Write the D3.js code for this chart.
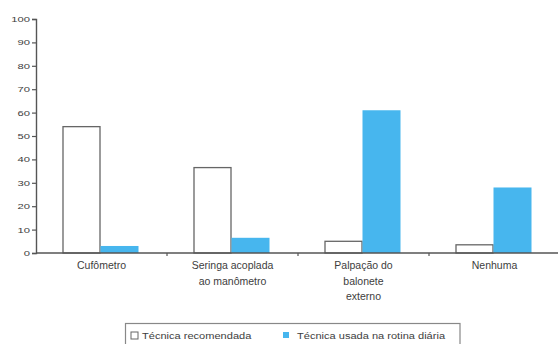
<!DOCTYPE html>
<html>
<head>
<meta charset="utf-8">
<script src="https://cdn.jsdelivr.net/npm/d3@7"></script>
<style>
  html, body { margin: 0; padding: 0; background: #fff; }
  svg { display: block; font-family: "Liberation Sans", Arial, sans-serif; }
</style>
</head>
<body>
<svg id="chart" width="558" height="344"></svg>
<script>
// Categories (multi-line labels) and the two series, in percent
const categories = ["Cufômetro", "Seringa acoplada ao manômetro", "Palpação do balonete externo", "Nenhuma"];
const categoryLines = [["Cufômetro"], ["Seringa acoplada", "ao manômetro"], ["Palpação do", "balonete", "externo"], ["Nenhuma"]];
const recomendada = [54, 36.5, 5, 3.5];
const rotina = [3, 6.5, 61, 28];
const seriesNames = ["Técnica recomendada", "Técnica usada na rotina diária"];
const yTicks = [0, 10, 20, 30, 40, 50, 60, 70, 80, 90, 100];

const svg = d3.select("#chart");
const textColor = "#3d3d3d";
const axisColor = "#555";
const blue = "#47b6ee";

const x0 = d3.scaleBand().domain(categories).range([36, 560]).padding(0);
const x1 = d3.scaleBand().domain(seriesNames)
  .range([26.5, x0.bandwidth() - 28.5]).padding(0);
const y = d3.scaleLinear().domain([0, 100]).range([253, 19]);

// stretch text horizontally a little, like the original typesetting
function widen(sel, f) {
  sel.each(function () {
    const len = this.getComputedTextLength();
    d3.select(this).attr("textLength", len * f).attr("lengthAdjust", "spacingAndGlyphs");
  });
}

// bars
const rows = categories.map((c, i) => ({ cat: c, vals: [recomendada[i], rotina[i]] }));
const groups = svg.append("g").selectAll("g").data(rows).join("g")
  .attr("transform", d => `translate(${x0(d.cat)},0)`);
groups.selectAll("rect").data(d => d.vals.map((v, j) => ({ v, s: seriesNames[j], j })))
  .join("rect")
  .attr("x", d => x1(d.s) + (d.j === 0 ? 0.5 : 0))
  .attr("width", d => x1.bandwidth() - (d.j === 0 ? 1 : 0))
  .attr("y", d => y(d.v))
  .attr("height", d => y(0) - y(d.v))
  .attr("fill", d => d.j === 0 ? "#fff" : blue)
  .attr("stroke", d => d.j === 0 ? "#666" : "none")
  .attr("stroke-width", 1.3);

// y axis
const yAxis = svg.append("g").attr("transform", "translate(36,0)")
  .call(d3.axisLeft(y).tickValues(yTicks).tickSize(4).tickPadding(2));
yAxis.select(".domain").attr("stroke", axisColor).attr("stroke-width", 1.4);
yAxis.selectAll(".tick line").attr("stroke", axisColor).attr("stroke-width", 1.2);
yAxis.selectAll("text").attr("fill", textColor).attr("font-size", 8)
  .attr("font-family", "Liberation Sans, Arial, sans-serif").call(widen, 1.4);

// x axis baseline with ticks at category boundaries
svg.append("line").attr("x1", 36).attr("x2", 558).attr("y1", y(0)).attr("y2", y(0))
  .attr("stroke", axisColor).attr("stroke-width", 1.4);
svg.append("g").selectAll("line").data(categories.slice(1)).join("line")
  .attr("x1", d => x0(d)).attr("x2", d => x0(d))
  .attr("y1", y(0)).attr("y2", y(0) + 3)
  .attr("stroke", axisColor).attr("stroke-width", 1.2);

// category labels
const labels = svg.append("g").selectAll("text").data(categories.map((c, i) => ({ c, lines: categoryLines[i] })))
  .join("text")
  .attr("text-anchor", "middle").attr("fill", textColor).attr("font-size", 10.5);
labels.selectAll("tspan").data(d => d.lines.map(l => ({ l, c: d.c })))
  .join("tspan")
  .attr("x", d => x0(d.c) + x0.bandwidth() / 2)
  .attr("y", (d, i) => 269 + i * 15.7)
  .text(d => d.l);

// legend
const lg = svg.append("g");
lg.append("rect").attr("x", 125.5).attr("y", 323.5).attr("width", 334.5).attr("height", 30)
  .attr("fill", "none").attr("stroke", "#888").attr("stroke-width", 1.2);
lg.append("rect").attr("x", 131).attr("y", 332).attr("width", 7).attr("height", 7)
  .attr("fill", "#fff").attr("stroke", "#666").attr("stroke-width", 1);
lg.append("rect").attr("x", 283).attr("y", 332).attr("width", 6).attr("height", 6)
  .attr("fill", blue);
lg.append("text").attr("x", 142).attr("y", 339).attr("font-size", 8.5).attr("fill", textColor)
  .text(seriesNames[0]).call(widen, 1.3);
lg.append("text").attr("x", 297).attr("y", 339).attr("font-size", 8.5).attr("fill", textColor)
  .text(seriesNames[1]).call(widen, 1.3);
</script>
</body>
</html>
